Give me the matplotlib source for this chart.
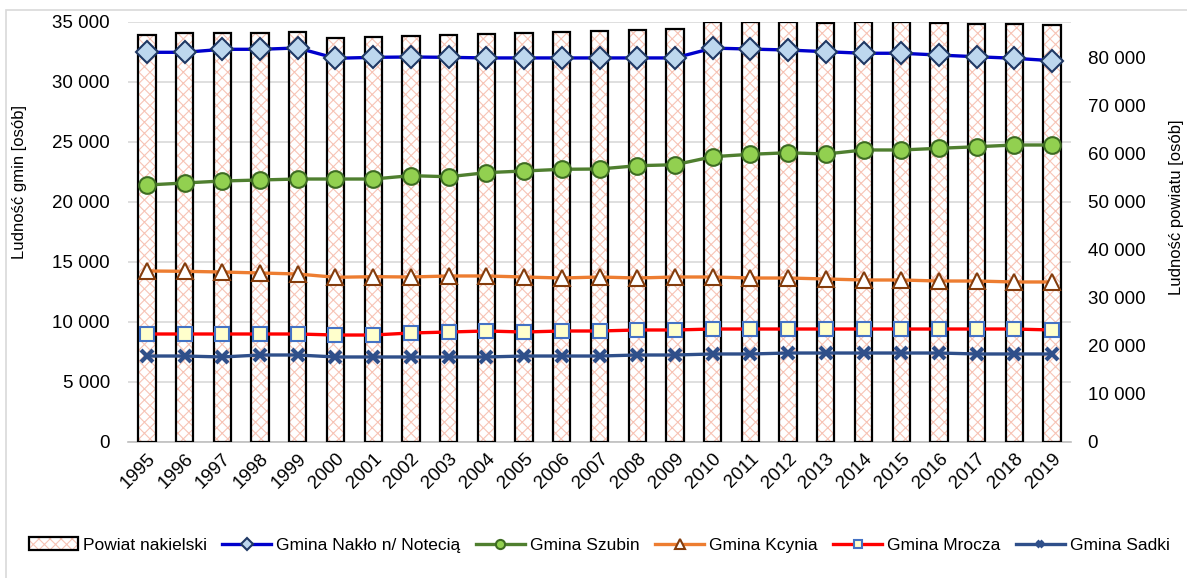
import matplotlib.pyplot as plt
from matplotlib.patches import Patch, Rectangle
from matplotlib.ticker import FuncFormatter, MultipleLocator
from matplotlib.legend_handler import HandlerTuple

years = list(range(1995, 2020))

# Powiat nakielski (right axis)
powiat = [84730, 85140, 85080, 85210, 85420, 84040, 84250, 84520, 84730, 84940,
          85150, 85350, 85560, 85770, 85980, 87440, 87440, 87540, 87290, 87375,
          87375, 87290, 87080, 87020, 86810]

# gminy (left axis)
naklo = [32450, 32450, 32700, 32700, 32810, 31950, 32030, 32060, 32030, 31980,
         31980, 31980, 31980, 31980, 31980, 32800, 32720, 32640, 32500, 32370,
         32370, 32220, 32080, 31950, 31750]
szubin = [21390, 21560, 21725, 21810, 21890, 21890, 21890, 22170, 22080, 22420,
          22560, 22700, 22725, 23000, 23080, 23750, 23950, 24080, 23975, 24310,
          24310, 24450, 24580, 24725, 24725]
kcynia = [14225, 14200, 14140, 14060, 13975, 13700, 13750, 13725, 13810, 13810,
          13725, 13640, 13725, 13640, 13725, 13725, 13640, 13640, 13560, 13475,
          13475, 13390, 13390, 13310, 13310]
mrocza = [8975, 8975, 8975, 8975, 8975, 8890, 8890, 9060, 9140, 9225,
          9140, 9225, 9225, 9310, 9310, 9390, 9390, 9390, 9390, 9390,
          9390, 9390, 9390, 9390, 9310]
sadki = [7140, 7140, 7060, 7225, 7225, 7060, 7060, 7060, 7060, 7060,
         7140, 7140, 7140, 7225, 7225, 7310, 7310, 7390, 7390, 7390,
         7390, 7390, 7310, 7310, 7310]

plt.rcParams['font.family'] = ['Liberation Sans', 'DejaVu Sans']
plt.rcParams['hatch.linewidth'] = 0.8

fs = 13.5
W, H = 1187, 578
fig = plt.figure(figsize=(W / 100, H / 100), dpi=100)

# chart frame
fig.patches.append(Rectangle((6 / W, -0.1), 1.1, 1 - 10 / H + 0.1, transform=fig.transFigure,
                             fill=False, edgecolor='#d9d9d9', linewidth=1.2))

ax = fig.add_axes([128 / W, 1 - 441.7 / H, (1071 - 128) / W, 420 / H])
x = list(range(len(years)))
fmt = FuncFormatter(lambda v, p: f'{int(v):,}'.replace(',', ' '))

# left axis: grid + labels
ax.set_ylim(0, 35000)
ax.set_xlim(-0.5, len(years) - 0.5)
ax.yaxis.set_major_locator(MultipleLocator(5000))
ax.yaxis.set_major_formatter(fmt)
ax.grid(axis='y', color='#d9d9d9', linewidth=1.2)
ax.set_axisbelow(True)
for s in ['top', 'right', 'left']:
    ax.spines[s].set_visible(False)
ax.spines['bottom'].set_color('#bfbfbf')
ax.spines['bottom'].set_linewidth(1.2)
ax.tick_params(axis='y', length=0, pad=13, labelsize=fs)
ax.tick_params(axis='x', length=0, pad=6, labelsize=fs)
ax.set_xticks(x)
ax.set_xticklabels([str(y) for y in years], rotation=45, ha='right', va='top',
                   rotation_mode='anchor')

# right axis: bars
ax2 = ax.twinx()
ax2.set_ylim(0, 87500)
ax2.yaxis.set_major_formatter(fmt)
ax2.set_yticks(range(0, 80001, 10000))
for s in ax2.spines.values():
    s.set_visible(False)
ax2.tick_params(axis='y', length=0, pad=12, labelsize=fs)
hatch_c = '#f7c4b6'
ax2.bar(x, powiat, width=0.46, facecolor='white', edgecolor=hatch_c, hatch='xxx',
        linewidth=0)
ax2.bar(x, powiat, width=0.46, fill=False, edgecolor='black', linewidth=1.6)

# lines on top
ax3 = ax.twinx()
ax3.set_ylim(0, 35000)
ax3.set_yticks([])
for s in ax3.spines.values():
    s.set_visible(False)

l1, = ax3.plot(x, naklo, color='#0000cc', lw=2.4, marker='D', ms=11,
               mfc='#bdd7ee', mec='#1f3864', mew=1.5)
l2, = ax3.plot(x, szubin, color='#4f7f2f', lw=2.4, marker='o', ms=12,
               mfc='#92d050', mec='#3d6b22', mew=1.5)
l3, = ax3.plot(x, kcynia, color='#ed7d31', lw=2.4, marker='^', ms=12,
               mfc='white', mec='#843c0c', mew=1.5)
l4, = ax3.plot(x, mrocza, color='#ff0000', lw=2.4, marker='s', ms=10,
               mfc='#ffffcc', mec='#4472c4', mew=1.5)
l5, = ax3.plot(x, sadki, color='#2f4f8a', lw=2.4, marker='x', ms=9,
               mec='#2f4f8a', mew=3)

fig.text(20 / W, 1 - 182 / H, 'Ludność gmin [osób]', rotation=90, ha='center', va='center',
         fontsize=fs - 1.5)
fig.text(1176 / W, 1 - 207 / H, 'Ludność powiatu [osób]', rotation=90, ha='center',
         va='center', fontsize=fs - 1.5)

bar_h = (Patch(facecolor='white', edgecolor=hatch_c, hatch='xxx', linewidth=0),
         Patch(fill=False, edgecolor='black', linewidth=1.6))
handles = [bar_h, l1, l2, l3, l4, l5]
labels = ['Powiat nakielski', 'Gmina Nakło n/ Notecią', 'Gmina Szubin', 'Gmina Kcynia',
          'Gmina Mrocza', 'Gmina Sadki']
fig.legend(handles, labels, loc='center', bbox_to_anchor=(0.505, 1 - 545 / H), ncol=6,
           frameon=False, fontsize=12.5, handlelength=2.8, handleheight=0.8,
           handletextpad=0.3, columnspacing=0.9, markerscale=0.55,
           handler_map={tuple: HandlerTuple(ndivide=1, pad=0)})

fig.savefig('out.png', dpi=100)
